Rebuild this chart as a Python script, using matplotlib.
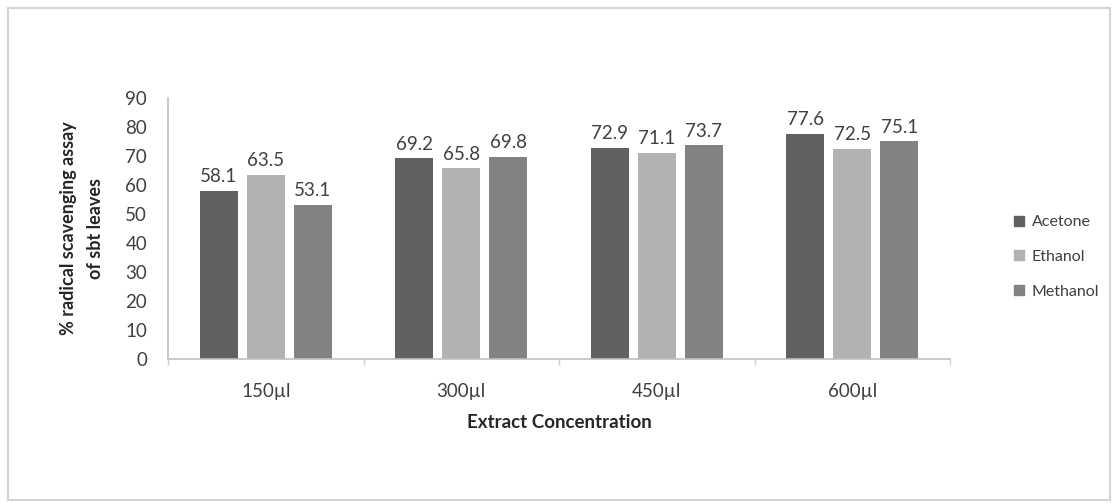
import numpy as np
import matplotlib
matplotlib.use('Agg')
import matplotlib.pyplot as plt
from matplotlib.patches import Rectangle, Patch

plt.rcParams['font.family'] = ['Lato', 'DejaVu Sans']

# Data
concentrations = ['150µl', '300µl', '450µl', '600µl']
solvents = ['Acetone', 'Ethanol', 'Methanol']
acetone = [58.1, 69.2, 72.9, 77.6]
ethanol = [63.5, 65.8, 71.1, 72.5]
methanol = [53.1, 69.8, 73.7, 75.1]
colors = ['#606060', '#b2b2b2', '#828282']

fig = plt.figure(figsize=(11.2, 5.04), dpi=100)
ax = fig.add_axes([168 / 1120, 1 - 359 / 504, 782 / 1120, 261 / 504])

x = np.arange(len(concentrations))
width = 0.194
step = 0.24

for i, (vals, c) in enumerate(zip([acetone, ethanol, methanol], colors)):
    bars = ax.bar(x + (i - 1) * step, vals, width, color=c, label=solvents[i])
    for b, v in zip(bars, vals):
        ax.annotate(f'{v:.1f}', (b.get_x() + b.get_width() / 2, v),
                    xytext=(0, 4), textcoords='offset points',
                    ha='center', va='bottom', fontsize=13.5, color='#404040')

ax.set_xlim(-0.5, 3.5)
ax.set_ylim(0, 90)
ax.set_yticks(range(0, 91, 10))
ax.set_xticks(x)
ax.set_xticklabels(concentrations)
ax.set_xticks(np.arange(-0.5, 3.6, 1), minor=True)

for s in ['top', 'right']:
    ax.spines[s].set_visible(False)
for s in ['left', 'bottom']:
    ax.spines[s].set_color('#c0c0c0')
    ax.spines[s].set_linewidth(1.2)

ax.tick_params(axis='y', length=0, pad=15, labelsize=13.5, labelcolor='#404040')
ax.tick_params(axis='x', which='major', length=0, pad=17, labelsize=13.5, labelcolor='#404040')
ax.tick_params(axis='x', which='minor', length=4, color='#d0d0d0', width=1)

ax.set_xlabel('Extract Concentration', fontsize=13.5, fontweight='bold',
              color='#262626', labelpad=10)
ax.set_ylabel('% radical scavenging assay\nof sbt leaves', fontsize=13,
              fontweight='bold', color='#262626', labelpad=15, linespacing=1.75)

handles = [Patch(color=c) for c in colors]
fig.legend(handles, solvents, loc='center left', bbox_to_anchor=(1000 / 1120, 1 - 257 / 504),
           frameon=False, fontsize=11.5, handlelength=0.6, handleheight=0.6,
           handletextpad=0.5, labelspacing=1.3, labelcolor='#404040')

# light frame around the whole chart
fig.patches.append(Rectangle((8 / 1120, 4 / 504), 1102 / 1120, 492 / 504,
                             transform=fig.transFigure, fill=False,
                             ec='#d4d4d4', lw=1.5))

fig.savefig('out.png', dpi=100)
